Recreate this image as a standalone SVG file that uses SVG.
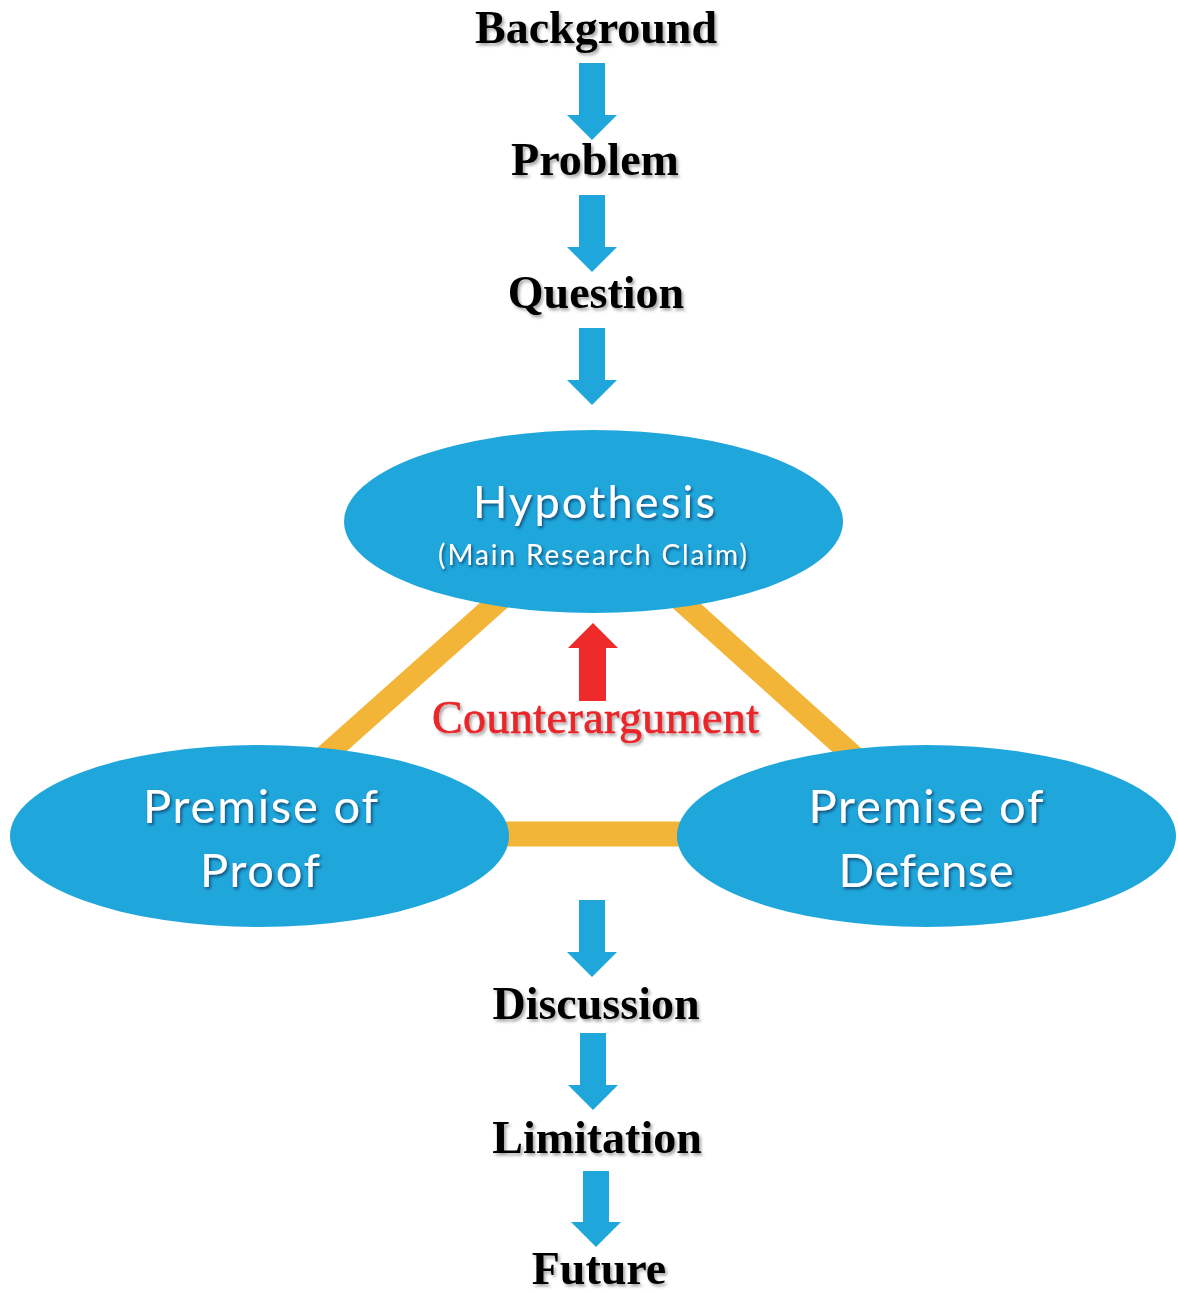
<svg xmlns="http://www.w3.org/2000/svg" width="1178" height="1293" viewBox="0 0 1178 1293">
<defs>
<filter id="shW" x="-10%" y="-30%" width="120%" height="160%">
<feDropShadow dx="1.5" dy="2" stdDeviation="1.8" flood-color="#0d2f55" flood-opacity="0.75"/>
</filter>
<filter id="shK" x="-10%" y="-30%" width="120%" height="160%">
<feDropShadow dx="2" dy="2.5" stdDeviation="1.8" flood-color="#000" flood-opacity="0.35"/>
</filter>
<style>
.step{font-family:"Liberation Serif","Times New Roman",serif;font-weight:bold;font-size:46px;fill:#000;text-anchor:middle}
.node{fill:#1FA7DC}
.ntext{font-family:Lato,"Open Sans","Noto Sans",sans-serif;fill:#fff;text-anchor:middle}
.barrow{fill:#1FA7DC}
.link{stroke:#F3B537;fill:none}
</style>
</defs>
<rect width="1178" height="1293" fill="#fff"/>

<g id="connectors">
<line class="link" x1="522" y1="580" x2="309" y2="770" stroke-width="22"/>
<line class="link" x1="658" y1="580" x2="869" y2="770" stroke-width="22"/>
<line class="link" x1="490" y1="834" x2="700" y2="834" stroke-width="25"/>
<path class="barrow" d="M579,63 H605 V115 H617 L592,140 L567,115 H579 Z"/>
<path class="barrow" d="M579,195 H605 V247 H617 L592,272 L567,247 H579 Z"/>
<path class="barrow" d="M579,328 H605 V380 H617 L592,405 L567,380 H579 Z"/>
<path class="barrow" d="M579,900 H605 V952 H617 L592,977 L567,952 H579 Z"/>
<path class="barrow" d="M580,1033 H606 V1085 H618 L593,1110 L568,1085 H580 Z"/>
<path class="barrow" d="M583,1171 H609 V1222 H621 L596,1247 L571,1222 H583 Z"/>
<path id="counter-arrow" d="M579,701 H606 V648 H618 L593,623 L568,648 H579 Z" fill="#EE2A2A"/>
</g>

<g id="background"><text class="step" x="596" y="43" filter="url(#shK)">Background</text></g>
<g id="problem"><text class="step" x="595" y="175" filter="url(#shK)">Problem</text></g>
<g id="question"><text class="step" x="596" y="308" filter="url(#shK)">Question</text></g>

<g id="hypothesis">
<ellipse class="node" cx="593.5" cy="521.5" rx="249.5" ry="91.5"/>
<text class="ntext" x="594" y="518" font-size="45" textLength="242" lengthAdjust="spacing" filter="url(#shW)">Hypothesis</text>
<text class="ntext" x="592.5" y="565" font-size="28" textLength="309" lengthAdjust="spacing" filter="url(#shW)">(Main Research Claim)</text>
</g>

<g id="counterargument">
<text x="595.5" y="733" font-family="Liberation Serif,'Times New Roman',serif" font-size="46" fill="#E8262A" stroke="#E8262A" stroke-width="0.7" text-anchor="middle" textLength="327" lengthAdjust="spacing" filter="url(#shK)">Counterargument</text>
</g>

<g id="premise-proof">
<ellipse class="node" cx="259.5" cy="836" rx="249.5" ry="91"/>
<text class="ntext" x="260.5" y="823" font-size="47" textLength="235" lengthAdjust="spacing" filter="url(#shW)">Premise of</text>
<text class="ntext" x="260" y="887" font-size="47" textLength="120" lengthAdjust="spacing" filter="url(#shW)">Proof</text>
</g>

<g id="premise-defense">
<ellipse class="node" cx="926.5" cy="836" rx="249.5" ry="91"/>
<text class="ntext" x="926" y="823" font-size="47" textLength="235" lengthAdjust="spacing" filter="url(#shW)">Premise of</text>
<text class="ntext" x="926" y="887" font-size="47" textLength="175" lengthAdjust="spacing" filter="url(#shW)">Defense</text>
</g>

<g id="discussion"><text class="step" x="596" y="1019" filter="url(#shK)">Discussion</text></g>
<g id="limitation"><text class="step" x="597" y="1153" filter="url(#shK)">Limitation</text></g>
<g id="future"><text class="step" x="599" y="1284" filter="url(#shK)">Future</text></g>
</svg>
